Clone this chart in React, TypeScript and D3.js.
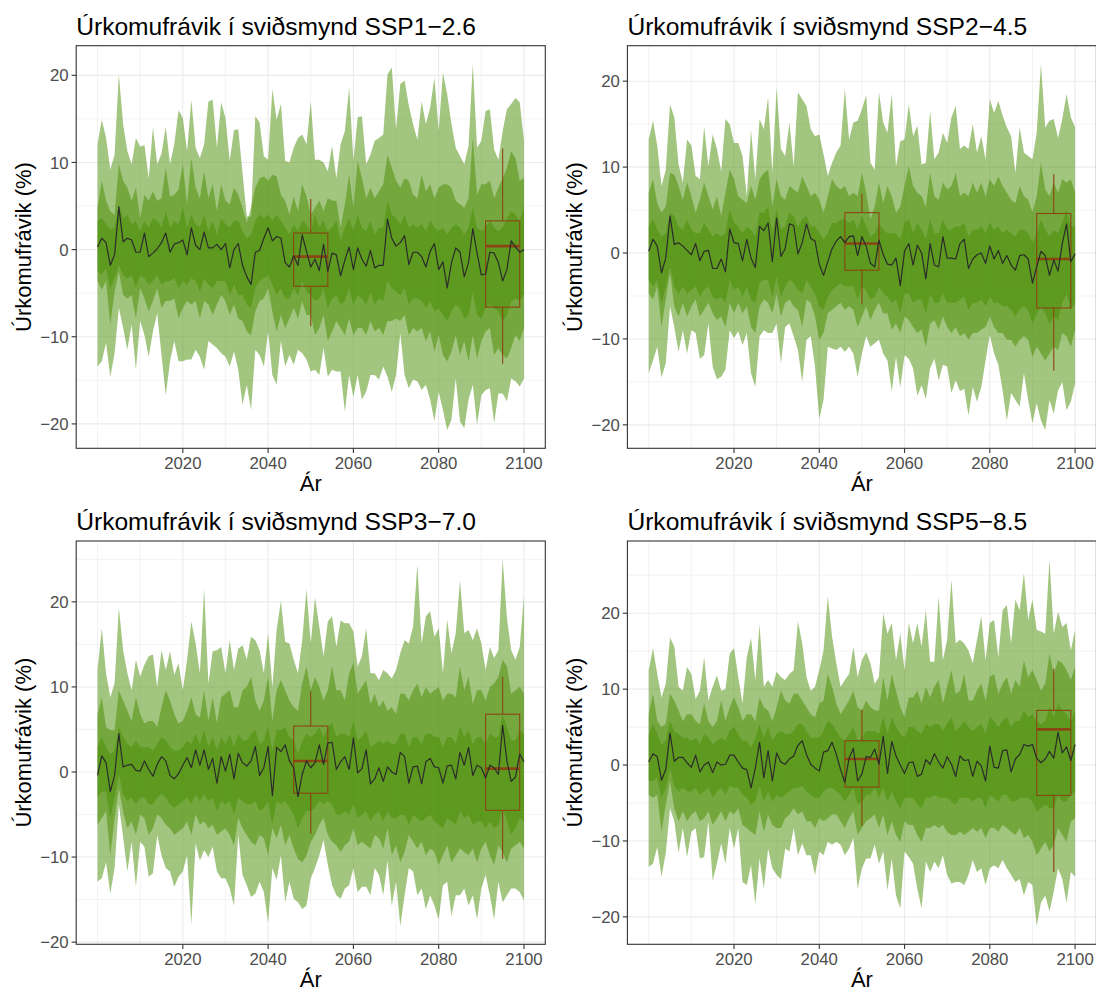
import React from "react";
import * as d3 from "d3";

// ---------- DATA (years 2000..2100) ----------
const years: number[] = d3.range(2000, 2101);

// SSP1-2.6
const ssp126Median = [
  0.3, 1.3, 0.8, -1.8, -0.6, 4.9, 0.9, 1.3, 1.1, -0.3,
  -0.3, 1.9, -0.8, -0.4, 0.1, 0.8, 1.9, -0.3, 0.65, 0.8,
  1.1, -0.6, 2.5, 0.5, 0.0, 2.0, 0.2, 0.2, 0.6, 0.0,
  0.7, -2.1, 0.0, 0.7, -1.8, -3.1, -4.0, -0.3, -0.1, 1.3,
  2.5, 1.0, 1.5, 1.3, -1.5, -2.0, -0.7, -1.8, 1.7, -0.2,
  -2.0, -1.1, -2.4, 0.6, -2.5, -0.4, -0.6, -3.0, -1.2, 0.3,
  -2.3, 0.2, -1.1, -1.9, -0.1, -2.1, -1.8, -1.8, 3.5, 1.3,
  0.4, 0.8, 1.6, -1.7, -0.3, -0.3, -0.8, -2.0, -0.2, 0.7,
  -2.3, -1.4, -4.4, -1.5, 0.2, -0.3, -3.1, -1.5, 2.4, -0.4,
  -2.9, -2.8, -0.3, -0.4, -1.5, -3.6, -2.3, 1.0, 0.3, -0.3,
  0.0,
];
const ssp126OuterHi = [
  12.1, 14.9, 12.8, 9.2, 10.9, 20.1, 14.4, 11.3, 9.8, 12.8,
  11.8, 12.0, 8.2, 14.0, 9.8, 11.0, 14.1, 9.8, 12.1, 16.0,
  15.1, 11.3, 17.2, 11.7, 10.5, 12.1, 17.0, 17.2, 11.7, 16.9,
  15.1, 10.2, 13.7, 13.8, 8.8, 3.8, 3.8, 15.3, 14.6, 10.7,
  10.3, 18.4, 14.9, 16.7, 10.2, 10.0, 11.7, 12.8, 13.2, 12.1,
  17.0, 10.3, 10.3, 10.0, 9.0, 11.9, 8.2, 12.1, 13.6, 18.6,
  10.2, 15.2, 15.3, 9.8, 10.9, 12.5, 12.8, 13.2, 20.1, 20.9,
  13.8, 19.0, 19.4, 16.5, 14.4, 12.6, 17.0, 14.4, 16.3, 19.7,
  13.6, 20.3, 17.8, 14.4, 11.7, 10.7, 9.8, 11.9, 21.3, 11.7,
  12.5, 15.9, 16.1, 11.5, 10.3, 13.6, 16.1, 16.7, 17.4, 16.9,
  12.5,
];
const ssp126OuterLo = [
  -13.4, -12.8, -10.7, -14.6, -11.9, -6.7, -9.0, -11.5, -8.6, -13.8,
  -8.2, -9.8, -12.3, -9.4, -7.3, -12.1, -16.7, -12.8, -10.5, -12.8,
  -12.8, -12.6, -12.6, -11.5, -12.3, -13.8, -10.5, -10.9, -11.3, -11.9,
  -12.3, -13.4, -11.7, -13.8, -17.8, -15.5, -18.4, -11.5, -12.1, -13.4,
  -9.4, -14.4, -15.5, -10.5, -13.4, -12.1, -13.2, -11.5, -11.9, -12.6,
  -14.0, -13.8, -14.4, -11.3, -14.6, -13.8, -14.0, -14.0, -18.6, -14.4,
  -16.9, -14.4, -17.2, -16.3, -14.4, -14.4, -14.9, -13.4, -14.6, -16.3,
  -14.4, -9.6, -14.4, -15.9, -14.9, -15.1, -16.1, -15.5, -17.2, -19.7,
  -16.3, -18.4, -20.7, -19.5, -14.8, -19.7, -20.5, -17.2, -15.5, -20.1,
  -16.7, -16.1, -15.9, -19.9, -16.5, -16.5, -17.4, -14.8, -15.1, -15.7,
  -14.8,
];
const ssp126MidHi = [
  4.8, 7.9, 5.6, 4.4, 4.0, 9.8, 7.9, 7.1, 5.6, 7.1,
  3.6, 6.3, 5.6, 6.7, 5.6, 5.9, 9.4, 6.1, 6.3, 6.9,
  9.8, 5.2, 10.5, 7.1, 5.9, 9.0, 5.9, 7.5, 4.4, 7.5,
  5.6, 5.2, 7.1, 6.3, 4.8, 3.1, 4.8, 7.1, 8.2, 8.4,
  7.9, 8.6, 8.4, 6.3, 5.6, 4.0, 6.1, 4.4, 7.5, 6.1,
  4.0, 4.8, 5.6, 4.4, 5.9, 5.6, 5.6, 2.5, 5.2, 8.6,
  4.8, 10.2, 8.2, 5.9, 7.1, 5.9, 6.7, 7.5, 10.9, 9.4,
  7.9, 7.1, 8.2, 7.9, 6.3, 5.9, 8.6, 6.7, 7.5, 5.9,
  7.1, 7.5, 7.5, 7.1, 5.6, 5.2, 4.8, 5.9, 12.8, 6.3,
  7.5, 7.5, 7.9, 5.9, 7.1, 8.2, 9.4, 11.3, 10.5, 7.9,
  8.2,
];
const ssp126MidLo = [
  -3.6, -4.6, -3.6, -8.6, -4.8, -2.5, -5.2, -5.6, -5.2, -7.9,
  -4.4, -5.6, -7.1, -5.9, -4.4, -6.7, -5.9, -5.9, -5.6, -7.9,
  -6.7, -5.9, -6.3, -5.9, -7.9, -5.9, -6.3, -7.5, -6.3, -5.2,
  -5.9, -7.5, -6.3, -7.9, -8.2, -9.4, -9.8, -7.1, -5.9, -5.6,
  -4.4, -7.1, -9.4, -7.5, -9.0, -7.9, -6.7, -7.9, -5.9, -7.5,
  -7.5, -9.8, -9.0, -7.5, -10.5, -9.4, -8.2, -9.0, -9.8, -7.9,
  -9.8, -9.0, -9.0, -9.8, -8.2, -9.4, -9.0, -9.8, -8.2, -8.2,
  -7.9, -8.2, -7.5, -9.8, -9.0, -9.4, -9.0, -10.5, -9.4, -11.7,
  -9.8, -12.1, -12.8, -11.7, -9.8, -12.1, -10.5, -12.8, -9.8, -12.5,
  -10.5, -9.4, -9.0, -12.1, -11.3, -12.1, -12.5, -11.3, -9.8, -10.5,
  -9.0,
];
const ssp126InnerHi = [
  3.3, 3.6, 2.9, 2.3, 2.5, 5.2, 3.6, 4.0, 2.9, 3.3,
  2.1, 3.3, 2.5, 3.6, 3.3, 2.5, 4.4, 2.5, 3.3, 2.9,
  4.8, 2.5, 4.0, 2.9, 2.5, 4.0, 2.1, 3.3, 1.7, 3.6,
  2.9, 2.5, 3.3, 3.3, 2.1, 1.3, 1.7, 3.3, 4.0, 3.6,
  4.0, 3.3, 4.0, 3.3, 2.5, 1.7, 2.9, 2.1, 3.3, 2.9,
  2.1, 4.0, 2.5, 3.3, 2.1, 2.5, 3.3, 1.0, 2.5, 3.6,
  2.1, 4.0, 2.5, 2.1, 3.3, 1.7, 2.5, 2.5, 5.6, 4.0,
  3.6, 2.9, 4.0, 2.5, 2.9, 2.5, 2.9, 2.1, 3.3, 2.5,
  2.1, 2.5, 1.7, 2.5, 2.9, 2.5, 1.7, 2.5, 4.8, 2.5,
  2.1, 2.5, 3.3, 2.5, 2.1, 2.5, 3.6, 4.4, 4.0, 3.3,
  4.8,
];
const ssp126InnerLo = [
  -2.5, -2.9, -2.1, -4.4, -3.3, -1.7, -2.9, -3.3, -2.9, -4.4,
  -2.9, -3.3, -4.0, -3.6, -2.9, -4.0, -3.6, -3.6, -3.3, -4.4,
  -3.6, -4.0, -3.3, -3.6, -4.8, -3.3, -4.0, -4.4, -3.6, -3.6,
  -3.6, -5.2, -4.0, -5.2, -5.2, -6.3, -6.7, -4.4, -3.6, -3.3,
  -2.9, -4.0, -5.2, -4.4, -5.6, -5.6, -4.4, -5.2, -3.6, -4.8,
  -5.2, -5.9, -5.6, -4.4, -6.7, -5.6, -5.2, -6.3, -5.9, -4.4,
  -6.3, -5.2, -5.6, -6.3, -4.8, -6.3, -5.6, -5.9, -3.6, -4.4,
  -4.8, -5.2, -4.4, -6.3, -5.6, -5.6, -5.9, -6.7, -5.9, -7.1,
  -6.7, -7.5, -8.2, -7.1, -6.3, -6.7, -7.9, -7.5, -4.8, -7.5,
  -7.9, -6.7, -6.3, -6.7, -7.1, -8.2, -7.5, -5.9, -5.6, -5.9,
  -5.2,
];

// SSP2-4.5
const ssp245Median = [
  0.2, 1.6, 0.8, -2.3, -0.6, 4.3, 1.0, 1.2, 0.8, 0.3,
  -0.2, 1.1, -0.9, 0.2, 0.3, -1.8, -1.8, -0.7, -2.2, 2.8,
  1.2, 1.1, -0.9, 1.6, -0.6, -1.7, 3.1, 2.6, 3.5, -1.0,
  4.1, -0.4, 0.5, 3.4, 3.2, -0.1, 1.2, 3.4, 1.7, 1.4,
  -1.3, -2.6, -1.0, 0.5, 1.4, 1.9, 1.2, 1.9, 2.0, -0.3,
  1.9, 0.8, -1.2, -1.6, 1.5, -0.2, -1.3, -1.4, -0.6, -3.8,
  0.2, 1.1, -1.4, 0.9, 0.0, -3.0, 1.1, -1.4, -1.6, 1.9,
  -0.6, -0.6, -0.7, 1.1, 1.6, -1.8, -0.7, -0.2, 0.0, -1.2,
  0.8, -0.7, 0.3, -1.2, -0.3, -1.4, -2.0, -0.3, -0.2, -0.7,
  -3.5, -1.6, 0.2, -0.3, -2.6, -0.8, -2.1, 1.1, 3.4, -1.0,
  -0.1,
];
const ssp245OuterHi = [
  13.2, 15.4, 12.5, 7.8, 9.7, 17.3, 15.8, 10.3, 8.2, 13.2,
  12.5, 9.0, 8.6, 14.7, 10.1, 13.8, 12.1, 9.5, 15.6, 15.0,
  12.8, 12.8, 11.3, 6.6, 14.3, 8.6, 15.6, 14.4, 18.1, 9.3,
  19.3, 12.1, 11.3, 15.2, 10.1, 18.7, 17.9, 17.1, 14.4, 13.6,
  13.8, 11.5, 9.0, 10.5, 11.7, 12.5, 19.1, 13.2, 15.2, 15.4,
  16.7, 18.4, 10.5, 9.7, 18.7, 15.2, 14.0, 18.5, 10.1, 13.0,
  13.2, 17.3, 13.6, 14.8, 10.3, 10.5, 16.5, 10.9, 11.7, 14.0,
  12.8, 15.8, 17.1, 12.1, 12.5, 12.1, 15.0, 11.7, 13.6, 10.9,
  17.9, 16.3, 17.7, 16.0, 14.6, 13.6, 9.3, 14.6, 11.7, 11.3,
  10.9, 14.0, 22.0, 14.6, 15.4, 15.6, 13.4, 15.6, 18.5, 15.8,
  14.6,
];
const ssp245OuterLo = [
  -14.0, -12.5, -10.9, -14.5, -12.8, -6.2, -8.6, -11.5, -9.0, -11.7,
  -9.0, -9.3, -12.3, -11.9, -8.2, -13.2, -14.7, -14.4, -13.6, -9.0,
  -9.9, -9.1, -10.7, -9.3, -14.0, -15.6, -9.7, -9.0, -9.3, -9.3,
  -8.2, -12.8, -8.6, -8.2, -9.7, -11.3, -15.0, -10.1, -9.7, -13.2,
  -19.3, -17.1, -10.9, -11.1, -11.3, -10.9, -11.5, -10.9, -11.7, -14.4,
  -11.7, -9.7, -10.9, -10.5, -10.1, -11.7, -12.5, -16.1, -12.1, -15.6,
  -11.9, -12.3, -13.4, -16.6, -15.4, -17.0, -13.4, -12.3, -14.8, -13.0,
  -13.2, -16.3, -14.8, -16.1, -15.8, -18.9, -15.6, -17.3, -15.6, -12.5,
  -9.5, -11.7, -13.0, -16.0, -19.5, -16.3, -17.1, -17.9, -14.0, -17.1,
  -19.8, -17.5, -19.5, -20.6, -17.1, -18.7, -16.0, -15.0, -18.3, -17.3,
  -15.2,
];
const ssp245MidHi = [
  7.0, 8.6, 5.8, 4.7, 5.4, 9.3, 9.1, 7.8, 6.2, 8.2,
  6.6, 4.7, 6.2, 8.2, 6.6, 5.1, 6.6, 4.3, 7.0, 9.7,
  8.6, 6.6, 6.2, 5.8, 7.8, 6.2, 8.6, 9.3, 9.7, 5.4,
  8.6, 6.6, 6.2, 7.8, 7.4, 7.0, 8.9, 7.8, 6.6, 7.0,
  6.2, 4.7, 6.6, 8.6, 7.8, 7.4, 7.8, 6.6, 7.0, 6.6,
  9.3, 7.0, 3.9, 5.4, 8.2, 5.8, 7.8, 6.6, 4.7, 5.4,
  7.8, 10.1, 7.8, 7.0, 6.6, 5.4, 9.3, 6.6, 6.2, 8.2,
  7.4, 7.8, 9.3, 6.6, 7.0, 6.6, 8.2, 7.0, 8.2, 6.6,
  8.6, 7.8, 8.9, 7.8, 7.0, 6.2, 5.8, 7.8, 6.6, 6.2,
  4.7, 6.6, 10.5, 7.4, 6.6, 8.2, 7.0, 8.6, 8.2, 8.6,
  7.0,
];
const ssp245MidLo = [
  -4.7, -5.4, -3.9, -8.6, -5.4, -2.3, -6.2, -7.4, -5.8, -7.4,
  -6.2, -5.4, -7.4, -6.6, -5.8, -7.0, -7.8, -7.4, -8.6, -5.8,
  -7.0, -5.8, -7.0, -6.2, -8.6, -9.3, -6.2, -5.4, -5.8, -7.0,
  -4.7, -7.4, -5.8, -5.4, -6.2, -6.6, -8.6, -5.4, -5.8, -7.4,
  -10.1, -9.3, -7.0, -6.6, -6.2, -5.8, -6.6, -6.2, -6.6, -8.6,
  -7.4, -6.2, -7.8, -6.6, -5.8, -7.0, -7.0, -8.9, -8.2, -9.3,
  -7.4, -7.8, -8.6, -9.3, -8.9, -10.9, -8.2, -7.8, -8.9, -7.4,
  -8.6, -9.3, -8.6, -9.7, -9.3, -10.1, -9.3, -9.3, -8.9, -8.6,
  -7.4, -8.6, -9.3, -9.3, -10.1, -10.1, -10.9, -10.1, -9.7, -10.1,
  -12.1, -10.9, -11.7, -12.5, -11.7, -10.9, -11.3, -9.3, -9.7, -10.9,
  -8.9,
];
const ssp245InnerHi = [
  3.1, 3.9, 2.7, 1.9, 2.3, 4.7, 4.3, 3.1, 2.7, 3.9,
  2.7, 2.3, 2.3, 3.5, 2.7, 1.9, 2.3, 1.9, 2.3, 5.1,
  3.5, 3.1, 2.3, 3.1, 2.7, 1.9, 4.7, 4.7, 5.4, 2.3,
  5.1, 2.7, 3.1, 4.7, 4.3, 3.1, 3.9, 4.3, 3.1, 3.1,
  2.3, 1.6, 2.3, 3.5, 3.5, 3.9, 3.9, 3.5, 3.9, 2.7,
  4.3, 3.1, 1.9, 2.3, 3.5, 2.7, 2.3, 2.3, 2.3, 1.6,
  3.5, 3.9, 2.3, 3.5, 2.7, 1.6, 3.9, 2.3, 2.3, 3.9,
  2.7, 2.7, 3.1, 3.1, 3.5, 1.9, 2.7, 2.7, 3.1, 2.3,
  3.5, 2.7, 3.1, 2.3, 2.7, 2.3, 1.9, 2.7, 2.7, 2.3,
  1.2, 2.3, 3.9, 2.7, 1.9, 2.7, 2.3, 3.5, 5.1, 3.1,
  3.1,
];
const ssp245InnerLo = [
  -3.1, -3.9, -3.1, -5.8, -3.9, -1.6, -3.9, -4.7, -3.9, -4.7,
  -4.3, -3.9, -5.1, -4.3, -3.9, -5.1, -5.4, -5.1, -5.8, -3.1,
  -4.3, -3.9, -5.1, -3.9, -5.4, -5.8, -3.5, -3.1, -3.1, -5.1,
  -2.7, -5.1, -3.9, -3.1, -3.5, -4.3, -4.7, -3.1, -3.9, -4.7,
  -6.2, -6.6, -5.1, -4.3, -3.9, -3.5, -3.9, -3.9, -3.9, -5.4,
  -3.9, -4.3, -5.4, -5.1, -3.9, -4.7, -5.1, -5.8, -5.4, -7.0,
  -4.7, -4.7, -5.8, -5.4, -5.4, -7.0, -4.7, -5.8, -5.8, -4.7,
  -5.8, -5.8, -5.8, -5.4, -5.1, -6.6, -5.8, -5.8, -5.4, -6.2,
  -5.1, -5.8, -5.8, -6.2, -6.2, -6.6, -7.4, -6.6, -6.2, -6.6,
  -8.2, -7.0, -6.2, -7.0, -8.2, -7.4, -7.8, -5.8, -4.7, -6.6,
  -5.8,
];

// SSP3-7.0
const ssp370Median = [
  -0.4, 1.9, 1.1, -2.3, -0.4, 4.5, 0.6, 0.8, 0.9, 0.2,
  0.1, 1.3, 0.3, -0.5, 0.9, 1.8, 1.3, -0.4, -0.8, -0.2,
  0.8, 1.7, 0.5, 2.6, 0.8, 2.6, 0.3, 1.6, -1.3, 1.8,
  0.1, 2.1, -0.8, 2.2, 1.1, 0.7, 1.3, 3.0, -0.4, 0.5,
  3.0, -2.8, 2.9, 2.4, 3.2, 1.3, 0.5, -2.9, -0.3, 1.3,
  0.5, 1.1, 3.2, 0.9, 3.4, 3.5, 0.3, 1.2, 1.8, 0.3,
  4.0, -0.1, 0.4, 2.6, -1.4, -0.8, 0.5, -1.1, 0.6, 0.0,
  -0.3, 2.3, 1.8, -1.3, 0.6, 0.7, -1.4, 1.2, 1.6, 0.6,
  0.5, -1.3, 0.7, 0.8, -0.8, 2.3, 0.8, 2.9, -0.4, 0.8,
  0.5, -0.7, 0.8, 0.5, -0.3, 5.5, 1.3, -1.1, -0.6, 2.1,
  1.2,
];
const ssp370OuterHi = [
  12.0, 16.9, 11.6, 8.8, 10.4, 19.3, 14.3, 11.6, 9.6, 13.2,
  11.2, 12.6, 13.6, 13.8, 10.0, 14.3, 12.0, 14.2, 11.4, 12.8,
  9.6, 13.2, 17.7, 15.1, 11.6, 21.5, 10.4, 14.2, 14.3, 14.7,
  11.6, 15.5, 12.0, 14.5, 14.9, 13.2, 15.9, 15.5, 14.3, 11.6,
  16.3, 10.0, 16.7, 20.1, 15.3, 15.1, 13.2, 11.6, 15.5, 21.5,
  15.1, 20.5, 17.1, 13.6, 17.7, 18.3, 14.7, 17.8, 17.5, 17.5,
  16.5, 12.4, 13.6, 16.9, 11.6, 11.6, 10.8, 12.0, 11.6, 11.0,
  12.0, 14.0, 15.5, 15.1, 17.1, 24.4, 15.1, 18.3, 18.9, 15.9,
  16.9, 11.6, 17.9, 14.0, 16.3, 22.5, 16.3, 16.7, 15.5, 16.9,
  15.1, 12.0, 14.7, 13.4, 14.3, 25.0, 18.1, 14.3, 13.2, 14.7,
  20.7,
];
const ssp370OuterLo = [
  -12.9, -12.5, -10.6, -14.3, -11.3, -3.8, -7.6, -11.7, -8.2, -13.5,
  -8.2, -8.8, -12.3, -11.9, -7.4, -9.8, -11.3, -11.7, -13.5, -12.3,
  -11.7, -9.8, -17.9, -8.4, -10.4, -9.2, -10.0, -8.8, -11.7, -12.5,
  -12.5, -13.7, -15.7, -7.4, -12.1, -13.3, -14.7, -14.3, -12.9, -14.1,
  -17.7, -11.3, -12.7, -9.8, -15.3, -12.9, -14.9, -15.3, -16.1, -15.7,
  -12.5, -11.3, -9.8, -8.0, -10.9, -13.3, -14.5, -14.9, -13.7, -13.3,
  -11.3, -14.1, -13.5, -13.5, -14.5, -11.3, -12.1, -14.5, -10.4, -15.7,
  -12.9, -18.1, -14.5, -11.3, -11.7, -14.5, -13.7, -16.1, -14.5, -15.7,
  -17.3, -13.3, -12.9, -16.9, -14.5, -14.5, -13.7, -15.7, -14.5, -17.3,
  -13.7, -12.1, -14.5, -17.3, -12.9, -15.3, -14.5, -13.7, -13.7, -14.1,
  -15.1,
];
const ssp370MidHi = [
  6.8, 8.8, 5.3, 4.9, 4.9, 9.6, 8.4, 7.2, 6.0, 8.8,
  6.8, 5.7, 6.0, 6.0, 5.3, 7.6, 9.6, 8.4, 6.8, 5.7,
  6.0, 7.2, 8.8, 6.8, 6.4, 9.6, 6.0, 8.8, 5.7, 8.8,
  9.2, 9.6, 7.6, 7.6, 9.6, 10.0, 11.2, 8.4, 7.2, 8.4,
  11.2, 6.0, 9.6, 10.8, 9.6, 8.4, 7.6, 7.2, 10.4, 12.4,
  9.6, 11.2, 10.0, 8.4, 9.6, 12.4, 9.6, 9.6, 8.4, 11.6,
  12.8, 9.2, 10.0, 10.8, 8.0, 9.2, 7.6, 8.4, 7.2, 7.6,
  6.8, 9.2, 9.2, 8.4, 9.6, 10.4, 8.8, 10.0, 9.2, 9.6,
  10.0, 8.4, 9.2, 9.2, 8.8, 12.4, 9.6, 11.2, 8.0, 9.6,
  9.6, 8.4, 10.0, 10.4, 11.2, 13.2, 12.4, 9.2, 9.6, 10.0,
  9.2,
];
const ssp370MidLo = [
  -6.2, -5.4, -4.6, -9.8, -5.4, -1.9, -4.6, -6.6, -5.8, -7.4,
  -5.0, -5.4, -7.4, -6.6, -5.0, -5.4, -6.2, -6.6, -7.4, -7.0,
  -6.6, -5.8, -7.4, -5.0, -6.2, -5.8, -6.6, -6.2, -7.4, -7.0,
  -6.6, -7.4, -8.6, -5.4, -6.6, -7.4, -8.2, -8.6, -7.4, -7.8,
  -9.8, -6.6, -7.8, -6.2, -8.6, -7.4, -9.0, -10.2, -10.6, -9.8,
  -8.2, -7.4, -6.2, -5.4, -7.4, -8.2, -8.6, -9.4, -8.6, -8.2,
  -6.6, -8.6, -8.2, -8.6, -9.0, -7.4, -7.8, -9.0, -6.6, -9.8,
  -8.6, -10.6, -9.4, -7.4, -8.2, -9.0, -8.2, -9.8, -9.0, -9.4,
  -10.9, -9.8, -8.6, -10.6, -9.8, -9.0, -9.4, -9.8, -9.0, -10.6,
  -9.0, -8.2, -9.8, -10.9, -8.6, -9.4, -10.6, -9.0, -8.6, -8.2,
  -9.0,
];
const ssp370InnerHi = [
  2.9, 4.1, 2.9, 2.1, 2.5, 5.3, 4.1, 3.3, 2.9, 3.7,
  2.9, 2.9, 2.9, 2.5, 3.3, 4.1, 3.7, 2.9, 2.5, 2.5,
  2.9, 3.7, 3.3, 4.5, 3.3, 4.9, 2.9, 4.1, 2.5, 4.1,
  3.3, 4.5, 2.9, 4.5, 3.7, 3.7, 4.5, 4.9, 3.3, 3.7,
  5.3, 2.5, 4.9, 4.9, 5.3, 4.1, 3.7, 2.1, 3.7, 4.5,
  4.1, 4.5, 5.3, 4.1, 5.3, 5.7, 4.1, 4.5, 4.5, 4.1,
  6.0, 3.7, 4.1, 4.9, 2.9, 3.3, 3.7, 3.3, 3.7, 3.3,
  3.3, 4.5, 4.5, 2.9, 4.1, 4.1, 3.3, 4.5, 4.5, 4.1,
  4.1, 2.9, 4.1, 4.1, 3.3, 5.3, 4.1, 4.9, 3.3, 4.1,
  4.1, 3.3, 4.5, 4.1, 4.1, 6.8, 5.3, 3.7, 3.7, 4.9,
  4.5,
];
const ssp370InnerLo = [
  -3.0, -2.3, -2.3, -5.4, -3.0, -0.3, -2.6, -3.4, -3.0, -3.8,
  -3.0, -3.0, -3.8, -3.8, -3.0, -2.6, -3.0, -3.8, -4.2, -3.8,
  -3.4, -3.0, -3.8, -2.6, -3.4, -2.6, -3.4, -3.0, -4.6, -3.4,
  -3.8, -3.4, -5.0, -3.0, -3.4, -3.8, -3.8, -3.4, -4.6, -4.2,
  -3.4, -6.2, -3.4, -3.8, -3.4, -4.2, -5.0, -6.6, -5.4, -4.6,
  -4.6, -4.2, -3.4, -3.8, -3.4, -3.8, -5.0, -5.0, -4.6, -5.0,
  -3.8, -5.4, -5.0, -4.6, -5.8, -5.0, -4.6, -5.8, -4.6, -5.4,
  -5.4, -5.0, -5.0, -6.2, -5.0, -5.4, -5.8, -5.4, -5.0, -5.8,
  -6.2, -6.6, -5.4, -5.8, -6.2, -4.6, -5.4, -5.0, -6.2, -5.8,
  -5.8, -6.6, -5.8, -6.6, -6.2, -4.2, -5.8, -7.4, -6.6, -5.4,
  -5.8,
];

// SSP5-8.5
const ssp585Median = [
  0.4, 1.5, 1.1, -2.0, -0.6, 4.2, 0.5, 1.0, 1.0, 0.3,
  -0.3, 1.3, -0.9, 0.0, 0.4, -1.0, 0.4, 0.0, 0.1, 1.3,
  1.3, 0.4, -0.4, -0.6, -3.0, -0.4, 3.0, -1.7, 1.9, -2.1,
  1.6, 0.4, 0.1, 0.8, 1.2, 2.6, 3.2, 1.4, 0.1, -0.4,
  -0.8, 1.7, 1.9, 3.0, 1.4, -0.6, -2.3, 0.9, 2.2, -2.1,
  -1.2, 1.1, 1.0, 2.1, 0.1, 3.8, -1.1, 3.1, 1.2, 0.0,
  -1.1, 0.3, 0.4, -1.5, -1.2, 0.7, 0.1, 1.5, 0.4, -0.4,
  1.1, 0.1, -1.5, 1.2, 0.6, 0.7, -1.5, 0.5, -0.1, -2.1,
  2.5, -0.3, -0.4, 1.9, 2.0, -0.9, 0.8, 1.4, 2.7, 2.5,
  2.7, 0.9, 0.3, 0.8, 1.8, 0.9, 4.3, 1.6, 2.4, 0.6,
  2.7,
];
const ssp585OuterHi = [
  12.5, 15.4, 12.0, 8.9, 10.7, 16.8, 15.6, 10.3, 9.8, 12.9,
  12.0, 8.7, 9.8, 14.2, 8.5, 10.3, 11.8, 9.8, 10.0, 14.7,
  15.4, 11.6, 8.1, 14.2, 16.7, 11.2, 18.5, 10.3, 11.2, 10.3,
  12.3, 11.6, 11.2, 12.0, 12.5, 18.9, 16.0, 11.6, 9.8, 10.3,
  12.5, 15.1, 22.2, 16.9, 13.4, 10.3, 11.2, 12.0, 15.6, 11.6,
  13.8, 14.9, 13.4, 10.7, 11.6, 20.0, 17.3, 18.7, 13.8, 17.3,
  12.5, 18.7, 16.0, 18.7, 15.6, 20.4, 13.6, 13.6, 22.2, 13.8,
  16.5, 24.4, 16.0, 16.5, 16.0, 15.1, 13.4, 16.5, 19.6, 13.8,
  18.7, 19.1, 14.2, 20.4, 21.1, 16.0, 21.8, 20.4, 25.3, 19.1,
  21.8, 17.8, 17.6, 17.3, 27.1, 17.3, 20.2, 18.2, 18.7, 15.1,
  17.8,
];
const ssp585OuterLo = [
  -13.4, -13.0, -10.8, -14.7, -11.6, -5.7, -7.4, -11.6, -8.3, -12.1,
  -8.8, -8.3, -12.3, -12.1, -7.4, -15.2, -13.0, -10.3, -13.0, -8.3,
  -11.0, -8.3, -15.4, -15.8, -13.2, -18.3, -12.3, -16.3, -11.0, -13.6,
  -14.5, -15.0, -11.0, -11.4, -8.3, -11.9, -10.3, -11.9, -11.9, -14.5,
  -11.4, -11.9, -10.1, -10.5, -10.1, -10.5, -11.9, -11.0, -9.6, -16.3,
  -13.6, -12.3, -12.3, -10.5, -13.0, -11.4, -16.5, -12.3, -17.2, -18.9,
  -11.4, -12.1, -13.0, -16.3, -18.9, -12.7, -14.1, -12.7, -13.6, -11.9,
  -14.5, -15.6, -15.4, -15.4, -15.8, -14.5, -12.5, -14.1, -13.6, -15.8,
  -13.6, -13.2, -13.6, -12.5, -13.6, -14.5, -15.4, -15.0, -17.2, -15.4,
  -15.8, -21.2, -18.1, -17.2, -19.3, -16.7, -13.6, -15.0, -18.1, -14.1,
  -14.7,
];
const ssp585MidHi = [
  6.7, 9.4, 5.8, 5.0, 5.4, 9.4, 8.5, 7.2, 5.8, 6.7,
  6.7, 5.8, 5.4, 8.1, 5.8, 5.0, 5.8, 8.5, 5.8, 7.6,
  8.9, 7.6, 5.8, 6.7, 6.7, 5.8, 8.9, 7.6, 7.2, 5.8,
  7.6, 9.8, 8.5, 8.1, 9.4, 9.4, 8.5, 7.6, 6.7, 6.3,
  8.1, 8.5, 12.0, 10.3, 8.1, 6.7, 7.6, 8.5, 9.8, 7.6,
  7.2, 8.5, 7.6, 7.2, 7.2, 11.6, 8.5, 12.0, 9.8, 7.6,
  6.3, 8.9, 8.9, 9.8, 8.1, 10.3, 8.9, 10.3, 11.2, 8.1,
  10.3, 12.5, 9.4, 9.8, 12.0, 8.5, 8.5, 9.8, 10.7, 8.5,
  11.6, 12.0, 9.4, 10.7, 11.6, 9.4, 11.2, 10.3, 13.8, 11.6,
  12.5, 11.2, 9.8, 10.7, 14.7, 12.0, 13.8, 13.4, 12.5, 11.2,
  12.9,
];
const ssp585MidLo = [
  -3.9, -4.3, -3.9, -8.8, -5.2, -2.1, -5.7, -7.4, -6.1, -7.4,
  -6.5, -6.1, -7.4, -7.0, -6.1, -7.9, -7.0, -6.1, -7.4, -6.1,
  -6.5, -5.7, -7.9, -8.3, -8.8, -9.2, -6.1, -8.8, -6.5, -7.9,
  -8.3, -8.3, -7.0, -6.5, -5.7, -6.5, -6.1, -7.4, -7.4, -8.3,
  -7.0, -7.4, -7.0, -6.5, -6.5, -7.4, -8.3, -7.0, -6.1, -9.2,
  -8.3, -7.4, -7.0, -6.5, -8.3, -6.5, -9.2, -7.4, -9.2, -10.1,
  -7.4, -7.9, -7.9, -9.2, -10.1, -8.3, -8.3, -7.9, -8.3, -7.9,
  -8.8, -9.2, -9.2, -8.8, -9.2, -8.8, -8.3, -8.8, -8.3, -9.6,
  -8.3, -8.3, -8.8, -7.9, -8.3, -8.8, -9.2, -8.3, -9.6, -9.2,
  -10.1, -11.9, -11.0, -10.1, -11.4, -10.5, -8.3, -9.2, -10.1, -7.4,
  -7.0,
];
const ssp585InnerHi = [
  4.1, 5.4, 4.1, 2.7, 3.2, 5.8, 4.5, 4.1, 3.6, 3.6,
  3.2, 3.6, 2.7, 4.1, 3.6, 2.7, 3.2, 3.6, 3.2, 4.5,
  5.0, 4.1, 3.2, 3.2, 2.3, 3.6, 5.4, 3.6, 5.0, 3.2,
  4.1, 4.5, 4.1, 4.1, 4.5, 5.4, 5.4, 4.5, 3.6, 3.6,
  3.6, 4.5, 5.8, 5.4, 4.5, 3.6, 3.2, 4.1, 5.0, 3.2,
  3.6, 4.5, 4.5, 4.5, 4.1, 6.3, 4.1, 6.3, 5.0, 4.1,
  3.6, 5.0, 5.0, 4.5, 4.1, 5.4, 5.0, 5.4, 5.4, 4.5,
  5.4, 6.3, 4.5, 5.0, 5.8, 5.0, 4.5, 5.0, 5.4, 4.1,
  6.3, 5.8, 5.0, 5.8, 6.3, 5.0, 5.8, 5.8, 7.2, 6.3,
  6.7, 5.8, 5.4, 5.8, 7.6, 6.3, 8.1, 7.2, 6.7, 5.8,
  7.2,
];
const ssp585InnerLo = [
  -2.1, -2.1, -1.7, -4.3, -3.0, -0.4, -2.7, -3.5, -3.0, -3.5,
  -3.5, -3.0, -3.9, -3.5, -3.0, -4.3, -3.5, -3.0, -3.9, -2.7,
  -3.0, -3.0, -3.9, -4.3, -5.2, -4.8, -2.7, -4.8, -3.5, -4.8,
  -3.9, -4.3, -3.9, -3.5, -3.0, -3.0, -2.7, -3.5, -3.9, -4.3,
  -4.3, -3.5, -3.0, -3.0, -3.5, -3.9, -4.8, -3.9, -3.0, -5.2,
  -4.8, -3.9, -3.9, -3.0, -4.3, -3.0, -4.8, -3.5, -4.8, -5.7,
  -4.3, -4.3, -4.3, -5.2, -5.7, -4.3, -4.3, -3.9, -4.3, -4.3,
  -4.3, -4.8, -5.2, -4.3, -4.3, -4.3, -4.8, -4.3, -4.3, -5.7,
  -3.9, -4.3, -4.8, -3.9, -3.9, -4.8, -4.8, -4.3, -4.3, -4.3,
  -4.8, -6.1, -5.7, -5.2, -5.7, -5.7, -3.9, -4.8, -4.8, -3.9,
  -3.5,
];

// Boxplots: [lower whisker, Q1, median, Q3, upper whisker]
const boxYears = [2050, 2095];
const ssp126Box = [[-8.8, -4.2, -0.8, 1.9, 5.8], [-13.1, -6.6, 0.4, 3.3, 11.6]];
const ssp245Box = [[-6.0, -2.0, 1.1, 4.7, 6.9], [-13.7, -6.4, -0.7, 4.6, 9.2]];
const ssp370Box = [[-7.3, -2.5, 1.3, 5.4, 9.5], [-10.2, -4.5, 0.4, 6.8, 11.2]];
const ssp585Box = [[-8.0, -2.9, 0.8, 3.2, 7.3], [-14.1, -4.0, 4.7, 7.2, 12.7]];

const titles = [
  "Úrkomufrávik í sviðsmynd SSP1−2.6",
  "Úrkomufrávik í sviðsmynd SSP2−4.5",
  "Úrkomufrávik í sviðsmynd SSP3−7.0",
  "Úrkomufrávik í sviðsmynd SSP5−8.5",
];
const xBreaks = [2020, 2040, 2060, 2080, 2100];
const xLabel = "Ár";
const yLabel = "Úrkomufrávik (%)";

type Scenario = {
  title: string;
  median: number[];
  outer: [number[], number[]];
  mid: [number[], number[]];
  inner: [number[], number[]];
  boxes: number[][];
};

const scenarios: Scenario[] = [
  { title: titles[0], median: ssp126Median, outer: [ssp126OuterLo, ssp126OuterHi], mid: [ssp126MidLo, ssp126MidHi], inner: [ssp126InnerLo, ssp126InnerHi], boxes: ssp126Box },
  { title: titles[1], median: ssp245Median, outer: [ssp245OuterLo, ssp245OuterHi], mid: [ssp245MidLo, ssp245MidHi], inner: [ssp245InnerLo, ssp245InnerHi], boxes: ssp245Box },
  { title: titles[2], median: ssp370Median, outer: [ssp370OuterLo, ssp370OuterHi], mid: [ssp370MidLo, ssp370MidHi], inner: [ssp370InnerLo, ssp370InnerHi], boxes: ssp370Box },
  { title: titles[3], median: ssp585Median, outer: [ssp585OuterLo, ssp585OuterHi], mid: [ssp585MidLo, ssp585MidHi], inner: [ssp585InnerLo, ssp585InnerHi], boxes: ssp585Box },
];

// ---------- STYLE / LAYOUT ----------
const W = 1096;
const H = 988;
const FONT = "'Liberation Sans', Arial, Helvetica, sans-serif";
const RIBBON = "#458B00";
const BOX = "#8B4513";
const GRID = "#EBEBEB";
const AXIS = "#333333";
const TICKTXT = "#4D4D4D";

const cols = [[76.2, 545.3], [627.4, 1096.4]];
const rows = [[45.7, 448.3], [541, 944.3]];

const fmt = d3.format("d");

function Panel({ s, x0, x1, y0, y1 }: { s: Scenario; x0: number; x1: number; y0: number; y1: number }) {
  const x = d3.scaleLinear().domain([1995, 2105]).range([x0, x1]);
  const allLo = d3.min([...s.outer[0], ...s.boxes.map((b) => b[0])]) as number;
  const allHi = d3.max([...s.outer[1], ...s.boxes.map((b) => b[4])]) as number;
  const pad = (allHi - allLo) * 0.05;
  const y = d3.scaleLinear().domain([allLo - pad, allHi + pad]).range([y1, y0]);
  const yMajor = y.ticks(5).filter((t) => t >= y.domain()[0] && t <= y.domain()[1]);
  const step = yMajor[1] - yMajor[0];
  const yMinor = d3
    .range(yMajor[0] - step / 2, yMajor[yMajor.length - 1] + step, step)
    .filter((t) => t >= y.domain()[0] && t <= y.domain()[1]);
  const xMinor = d3.range(2000, 2101, 20).map((v) => v + 10).concat([2000]).filter((v) => v >= 1995 && v <= 2105);

  const area = (lo: number[], hi: number[]) =>
    d3
      .area<number>()
      .x((_, i) => x(years[i]))
      .y0((_, i) => y(lo[i]))
      .y1((_, i) => y(hi[i]))(years) as string;
  const line = d3
    .line<number>()
    .x((_, i) => x(years[i]))
    .y((_, i) => y(s.median[i]))(years) as string;

  const cx = (x0 + x1) / 2;
  const cy = (y0 + y1) / 2;

  return (
    <g>
      {yMinor.map((t) => (
        <line key={"ym" + t} x1={x0} x2={x1} y1={y(t)} y2={y(t)} stroke={GRID} strokeWidth={0.6} />
      ))}
      {xMinor.map((t) => (
        <line key={"xm" + t} y1={y0} y2={y1} x1={x(t)} x2={x(t)} stroke={GRID} strokeWidth={0.6} />
      ))}
      {yMajor.map((t) => (
        <line key={"yM" + t} x1={x0} x2={x1} y1={y(t)} y2={y(t)} stroke={GRID} strokeWidth={1.1} />
      ))}
      {xBreaks.map((t) => (
        <line key={"xM" + t} y1={y0} y2={y1} x1={x(t)} x2={x(t)} stroke={GRID} strokeWidth={1.1} />
      ))}
      <path d={area(s.outer[0], s.outer[1])} fill={RIBBON} fillOpacity={0.5} />
      <path d={area(s.mid[0], s.mid[1])} fill={RIBBON} fillOpacity={0.5} />
      <path d={area(s.inner[0], s.inner[1])} fill={RIBBON} fillOpacity={0.5} />
      {s.boxes.map((b, k) => {
        const yr = boxYears[k];
        const bx0 = x(yr - 4);
        const bx1 = x(yr + 4);
        const bxc = x(yr);
        return (
          <g key={"box" + k} stroke={BOX} fill="none">
            <line x1={bxc} x2={bxc} y1={y(b[4])} y2={y(b[3])} strokeWidth={1.1} />
            <line x1={bxc} x2={bxc} y1={y(b[1])} y2={y(b[0])} strokeWidth={1.1} />
            <rect x={bx0} width={bx1 - bx0} y={y(b[3])} height={y(b[1]) - y(b[3])} strokeWidth={1.1} />
            <line x1={bx0} x2={bx1} y1={y(b[2])} y2={y(b[2])} strokeWidth={2.6} />
          </g>
        );
      })}
      <path d={line} fill="none" stroke="#2B2B2B" strokeWidth={1.2} strokeLinejoin="round" />
      <rect x={x0} y={y0} width={x1 - x0} height={y1 - y0} fill="none" stroke={AXIS} strokeWidth={1.1} />
      {yMajor.map((t) => (
        <g key={"yt" + t}>
          <line x1={x0 - 4.6} x2={x0} y1={y(t)} y2={y(t)} stroke={AXIS} strokeWidth={1.1} />
          <text x={x0 - 7.5} y={y(t)} dy="0.36em" textAnchor="end" fontSize={16.8} fill={TICKTXT} fontFamily={FONT}>
            {fmt(t)}
          </text>
        </g>
      ))}
      {xBreaks.map((t) => (
        <g key={"xt" + t}>
          <line x1={x(t)} x2={x(t)} y1={y1} y2={y1 + 4.6} stroke={AXIS} strokeWidth={1.1} />
          <text x={x(t)} y={y1 + 20.5} textAnchor="middle" fontSize={16.8} fill={TICKTXT} fontFamily={FONT}>
            {fmt(t)}
          </text>
        </g>
      ))}
      <text x={cx} y={y1 + 42.5} textAnchor="middle" fontSize={22} fill="#000" fontFamily={FONT}>
        {xLabel}
      </text>
      <text
        transform={`translate(${x0 - 45},${cy}) rotate(-90)`}
        textAnchor="middle"
        fontSize={22}
        fill="#000"
        fontFamily={FONT}
      >
        {yLabel}
      </text>
      <text x={x0} y={y0 - 10.7} fontSize={24.6} fill="#000" fontFamily={FONT}>
        {s.title}
      </text>
    </g>
  );
}

export default function App() {
  return (
    <svg
      width={W}
      height={H}
      viewBox={`0 0 ${W} ${H}`}
      style={{ position: "absolute", left: 0, top: 0, background: "#fff" }}
    >
      <rect x={0} y={0} width={W} height={H} fill="#fff" />
      {scenarios.map((s, i) => {
        const c = cols[i % 2];
        const r = rows[Math.floor(i / 2)];
        return <Panel key={i} s={s} x0={c[0]} x1={c[1]} y0={r[0]} y1={r[1]} />;
      })}
    </svg>
  );
}
